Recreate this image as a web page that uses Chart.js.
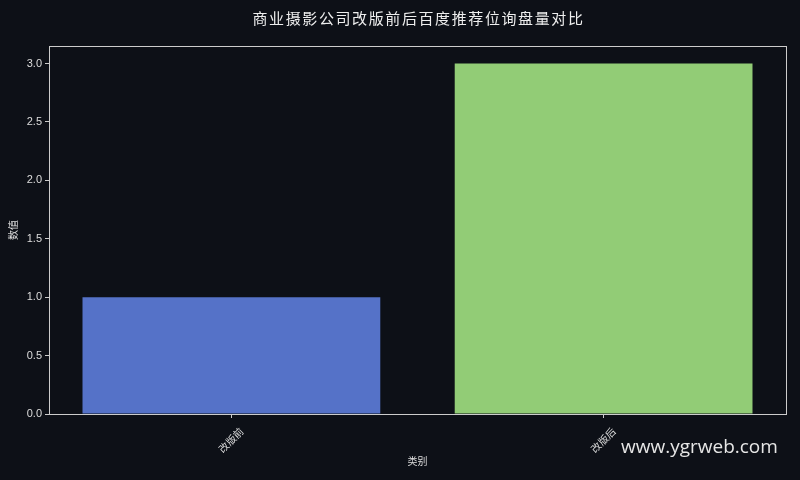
<!DOCTYPE html>
<html><head><meta charset="utf-8">
<script src="https://cdn.jsdelivr.net/npm/chart.js@4/dist/chart.umd.min.js"></script>
<style>html,body{margin:0;padding:0;background:#0d1017;}canvas{display:block;}</style>
</head><body>
<canvas id="c" width="800" height="480"></canvas>
<script>
const categories = ['改版前', '改版后'];
const values = [1, 3];
const barColors = ['#5572c8', '#92cc76'];
const yTicks = [0, 0.5, 1.0, 1.5, 2.0, 2.5, 3.0];
const titleText = '商业摄影公司改版前后百度推荐位询盘量对比';
const xTitle = '类别';
const yTitle = '数值';
const watermark = 'www.ygrweb.com';

const FONT = '"Liberation Sans", "Noto Sans CJK SC", sans-serif';
const textColor = '#dddddd';
const axisColor = '#cccccc';

const boxPlugin = {
  id: 'box',
  afterDatasetsDraw(chart) {
    const {ctx, chartArea: a} = chart;
    ctx.save();
    ctx.strokeStyle = axisColor;
    ctx.lineWidth = 1;
    ctx.strokeRect(Math.round(a.left) + 0.5, Math.round(a.top) + 0.5, Math.round(a.right - a.left), Math.round(a.bottom - a.top));
    ctx.restore();
  },
  afterDraw(chart) {
    const {ctx, chartArea: a} = chart;
    ctx.save();
    ctx.fillStyle = '#eeeeee';
    ctx.font = '15px "Noto Sans CJK SC", sans-serif';
    ctx.letterSpacing = '1.6px';
    ctx.textAlign = 'center';
    ctx.textBaseline = 'middle';
    ctx.fillText(titleText, (a.left + a.right) / 2 + 1, 18);
    ctx.letterSpacing = '0px';
    ctx.fillStyle = '#e6e6e6';
    ctx.font = '19px "Open Sans", "Noto Sans", sans-serif';
    ctx.textAlign = 'left';
    ctx.fillText(watermark, 621, 448);
    ctx.restore();
  }
};

const bgPlugin = {
  id: 'bg',
  beforeDraw(chart) {
    const {ctx} = chart;
    ctx.save();
    ctx.fillStyle = '#0d1017';
    ctx.fillRect(0, 0, chart.width, chart.height);
    ctx.restore();
  }
};

new Chart(document.getElementById('c'), {
  type: 'bar',
  data: {
    datasets: [{
      data: values.map((v, i) => ({ x: i, y: v })),
      backgroundColor: barColors,
      borderWidth: 0,
      barPercentage: 0.8,
      categoryPercentage: 1.0
    }]
  },
  options: {
    responsive: false,
    animation: false,
    devicePixelRatio: 1,
    layout: { padding: { left: 0, right: 14, top: 46, bottom: 0 } },
    plugins: {
      legend: { display: false },
      tooltip: { enabled: false },
      title: { display: false }
    },
    scales: {
      x: {
        type: 'linear',
        min: -0.49,
        max: 1.49,
        offset: false,
        afterBuildTicks(s) { s.ticks = categories.map((c, i) => ({ value: i })); },
        grid: { display: true, offset: false, drawOnChartArea: false, drawTicks: true, tickLength: 4, color: axisColor },
        border: { display: true, color: axisColor },
        ticks: { color: textColor, font: { family: FONT, size: 10 }, minRotation: 45, maxRotation: 45, padding: 8, labelOffset: 11, callback: v => categories[v] },
        title: { display: true, text: xTitle, color: textColor, font: { family: FONT, size: 10 }, padding: { top: 0, bottom: 12 } },
        afterFit(s) { s.height = 66; }
      },
      y: {
        min: 0,
        max: 3.15,
        afterBuildTicks(s) { s.ticks = yTicks.map(v => ({ value: v })); },
        grid: { display: true, drawOnChartArea: false, drawTicks: true, tickLength: 4, color: axisColor },
        border: { display: true, color: axisColor },
        ticks: { color: textColor, font: { family: FONT, size: 11 }, padding: 3, callback: v => Number(v).toFixed(1) },
        title: { display: true, text: yTitle, color: textColor, font: { family: FONT, size: 10 }, padding: { top: 8, bottom: 0 } },
        afterFit(s) { s.width = 49; }
      }
    }
  },
  plugins: [bgPlugin, boxPlugin]
});
</script>
</body></html>
